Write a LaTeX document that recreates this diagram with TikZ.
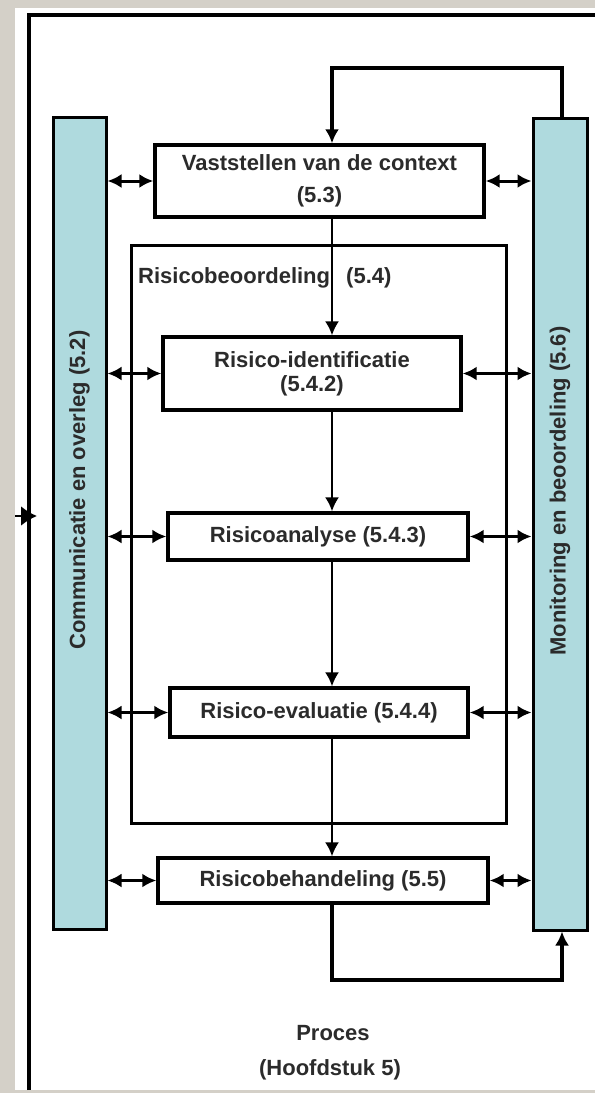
\documentclass[tikz,border=0pt]{standalone}
\usepackage{fontspec}
\setmainfont{Liberation Sans}
\usetikzlibrary{arrows.meta}
\definecolor{barteal}{HTML}{AFDADE}
\definecolor{textgrey}{HTML}{2B2B2B}
\definecolor{bggrey}{HTML}{D4D0C8}

\begin{document}
\begin{tikzpicture}[x = 1pt, y = -1pt,
        box/.style = {draw, line width = 3.4pt, fill = white, inner sep = 0pt, align = center, text = textgrey, font = \fontsize{22}{26}\selectfont\bfseries},
        bar/.style = {draw, line width = 3pt, fill = barteal, minimum width = 53pt, minimum height = 812pt, inner sep = 0pt},
        caption/.style = {inner sep = 0pt, text = textgrey, font = \fontsize{22}{26}\selectfont\bfseries},
        both/.style = {{Latex[length = 14pt, width = 14pt]}-{Latex[length = 14pt, width = 14pt]}, line width = 3pt},
        flow/.style = {-{Latex[length = 14pt, width = 14pt]}, line width = 2pt},
        loop/.style = {-{Latex[length = 14pt, width = 14pt]}, line width = 3.6pt}]
    \useasboundingbox (0, 0) rectangle (595, 1093);
    \fill[bggrey] (0, 0) rectangle (595, 1093);
    \fill[white] (15, 8) rectangle (595, 1090);
    \draw[line width = 3.6pt] (29, 1090) -- (29, 15) -- (595, 15);
    % incoming arrow on the frame
    \coordinate (intail) at (15, 516);
    \coordinate (inhead) at (37, 516);
    \draw[-{Latex[length = 16pt, width = 20pt]}, line width = 2.5pt] (intail) -- (inhead);

    % side bars
    \node[bar] (comm) at (79.5, 523) {};
    \node[bar, minimum width = 54pt] (monit) at (560, 524) {};
    \node[caption, rotate = 90] (commtext) at (79.5, 490) {Communicatie en overleg (5.2)};
    \node[caption, rotate = 90] (monittext) at (560, 491) {Monitoring en beoordeling (5.6)};

    % risicobeoordeling frame
    \node[draw, line width = 3pt, minimum width = 375pt, minimum height = 578pt, inner sep = 0pt] (beoord) at (318.5, 534) {};
    \node[caption, anchor = west] (beoordlabel) at (138, 278) {Risicobeoordeling\hspace{10pt} (5.4)};

    % steps
    \node[box, minimum width = 329pt, minimum height = 72pt] (ctx) at (319.5, 181) {Vaststellen van de context\\[6pt](5.3)};
    \node[box, minimum width = 298pt, minimum height = 73pt] (ident) at (312, 373.5) {Risico-identificatie\\[-2pt](5.4.2)};
    \node[box, minimum width = 300pt, minimum height = 47pt] (analyse) at (318, 536.5) {Risicoanalyse (5.4.3)};
    \node[box, minimum width = 298pt, minimum height = 49pt] (eval) at (319, 712.5) {Risico-evaluatie (5.4.4)};
    \node[box, minimum width = 330pt, minimum height = 45pt] (beh) at (323, 880.5) {Risicobehandeling (5.5)};

    \node[caption] (proces) at (333, 1033) {Proces};
    \node[caption] (hoofdstuk) at (330, 1070) {(Hoofdstuk 5)};

    % main flow
    \coordinate (spine) at (332, 0);
    \draw[flow] (ctx.south -| spine) -- (ident.north -| spine);
    \draw[flow] (ident.south -| spine) -- (analyse.north -| spine);
    \draw[flow] (analyse.south -| spine) -- (eval.north -| spine);
    \draw[flow] (eval.south -| spine) -- (beh.north -| spine);

    % loops
    \coordinate (topbend) at (562, 68);
    \coordinate (botbend) at (562, 980);
    \draw[loop] (monit.north -| topbend) -- (topbend) -- (topbend -| spine) -- (ctx.north -| spine);
    \draw[loop] (beh.south -| spine) -- (botbend -| spine) -- (botbend) -- (monit.south -| botbend);

    % links to the bars
    \foreach \step in {ctx, ident, analyse, eval, beh} {
        \draw[both] (comm.east |- \step.west) -- (\step.west);
        \draw[both] (\step.east) -- (monit.west |- \step.east);
    }
\end{tikzpicture}
\end{document}
